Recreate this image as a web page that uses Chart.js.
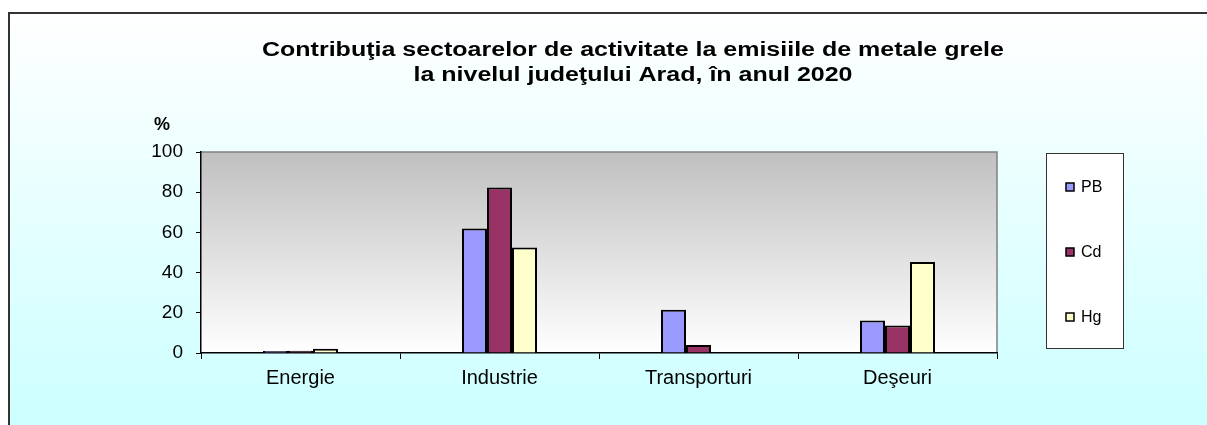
<!DOCTYPE html>
<html>
<head>
<meta charset="utf-8">
<script src="https://cdn.jsdelivr.net/npm/chart.js@4.4.1/dist/chart.umd.min.js"></script>
<style>
  html, body { margin: 0; padding: 0; background: #fff; }
  #wrap { width: 1207px; height: 425px; position: relative; }
</style>
</head>
<body>
<div id="wrap"><canvas id="chart" width="1207" height="425"></canvas></div>
<script>
const categories = ["Energie", "Industrie", "Transporturi", "Deşeuri"];
const seriesNames = ["PB", "Cd", "Hg"];
const pbValues = [1.0, 62.0, 21.5, 16.2];
const cdValues = [1.1, 82.4, 4.0, 13.7];
const hgValues = [2.1, 52.5, 0, 45.3];
const yTicks = [0, 20, 40, 60, 80, 100];
const titleLines = ["Contribuţia sectoarelor de activitate la emisiile de metale grele", "la nivelul judeţului Arad, în anul 2020"];
const yUnit = "%";

const barColors = ["#9999FF", "#993366", "#FFFFCC"];
const allValues = [pbValues, cdValues, hgValues];

// background, plot gradient and frame
const backgroundPlugin = {
    id: "bg",
    beforeDraw(chart) {
        const ctx = chart.ctx;
        const a = chart.chartArea;
        ctx.save();
        let g = ctx.createLinearGradient(0, 12, 0, 425);
        g.addColorStop(0, "#FFFFFF");
        g.addColorStop(1, "#CCFFFF");
        ctx.fillStyle = "#FFFFFF";
        ctx.fillRect(0, 0, chart.width, chart.height);
        ctx.fillStyle = g;
        ctx.fillRect(8, 12, chart.width - 8, chart.height - 12);
        // frame
        ctx.strokeStyle = "#333333";
        ctx.lineWidth = 2;
        ctx.beginPath();
        ctx.moveTo(9, chart.height);
        ctx.lineTo(9, 13);
        ctx.lineTo(chart.width, 13);
        ctx.stroke();
        // plot area
        let pg = ctx.createLinearGradient(0, a.top, 0, a.bottom);
        pg.addColorStop(0, "#C0C0C0");
        pg.addColorStop(1, "#FFFFFF");
        ctx.fillStyle = pg;
        ctx.fillRect(a.left, a.top, a.right - a.left, a.bottom - a.top);
        ctx.strokeStyle = "#808080";
        ctx.lineWidth = 1.5;
        ctx.beginPath();
        ctx.moveTo(a.left, a.top);
        ctx.lineTo(a.right, a.top);
        ctx.lineTo(a.right, a.bottom);
        ctx.stroke();
        ctx.restore();
    },
    afterDraw(chart) {
        const ctx = chart.ctx;
        ctx.save();
        ctx.fillStyle = "#000";
        ctx.textAlign = "center";
        ctx.textBaseline = "alphabetic";
        // title is drawn a bit wider than the font, like the original
        ctx.save();
        ctx.translate(633, 0);
        ctx.scale(1.25, 1);
        ctx.font = "bold 20px Arial, 'Liberation Sans'";
        ctx.fillText(titleLines[0], 0, 56);
        ctx.fillText(titleLines[1], 0, 81);
        ctx.restore();
        ctx.font = "bold 18px Arial, 'Liberation Sans'";
        ctx.fillText(yUnit, 162, 130);

        // legend
        ctx.fillStyle = "#FFFFFF";
        ctx.fillRect(1046, 153, 78, 195);
        ctx.strokeStyle = "#333333";
        ctx.lineWidth = 1;
        ctx.strokeRect(1046.5, 153.5, 77, 195);
        const ys = [187, 252, 317];
        chart.data.datasets.forEach((ds, i) => {
            ctx.fillStyle = ds.backgroundColor;
            ctx.fillRect(1066, ys[i] - 4, 8, 8);
            ctx.strokeStyle = "#000";
            ctx.lineWidth = 1.5;
            ctx.strokeRect(1066, ys[i] - 4, 8, 8);
            ctx.fillStyle = "#000";
            ctx.textAlign = "left";
            ctx.textBaseline = "middle";
            ctx.font = "16px Arial, 'Liberation Sans'";
            ctx.fillText(ds.label, 1081, ys[i] + 1);
        });
        ctx.restore();
    }
};

const datasets = seriesNames.map((name, i) => ({
    label: name,
    data: allValues[i],
    backgroundColor: barColors[i],
    borderColor: "#000000",
    borderWidth: 2,
    barPercentage: 1.0,
    categoryPercentage: 0.377
}));

new Chart(document.getElementById("chart"), {
    type: "bar",
    data: { labels: categories, datasets: datasets },
    options: {
        responsive: false,
        animation: false,
        layout: { padding: { top: 152, right: 210, bottom: 0, left: 0 } },
        plugins: {
            legend: { display: false },
            title: { display: false },
            tooltip: { enabled: false }
        },
        scales: {
            x: {
                grid: {
                    offset: true,
                    drawOnChartArea: false,
                    drawTicks: true,
                    tickLength: 6,
                    color: "#000",
                    lineWidth: 1
                },
                border: { color: "#000", width: 1.5 },
                ticks: {
                    color: "#000",
                    padding: 7,
                    font: { family: "Arial, 'Liberation Sans'", size: 20 }
                },
                afterFit(scale) { scale.height = 72; }
            },
            y: {
                min: 0,
                max: 100,
                afterBuildTicks(scale) { scale.ticks = yTicks.map(v => ({ value: v })); },
                grid: {
                    drawOnChartArea: false,
                    drawTicks: true,
                    tickLength: 5,
                    color: "#000",
                    lineWidth: 1
                },
                border: { color: "#000", width: 1.5 },
                ticks: {
                    color: "#000",
                    padding: 13,
                    font: { family: "Arial, 'Liberation Sans'", size: 19 }
                },
                afterFit(scale) { scale.width = 201; }
            }
        }
    },
    plugins: [backgroundPlugin]
});
</script>
</body>
</html>
